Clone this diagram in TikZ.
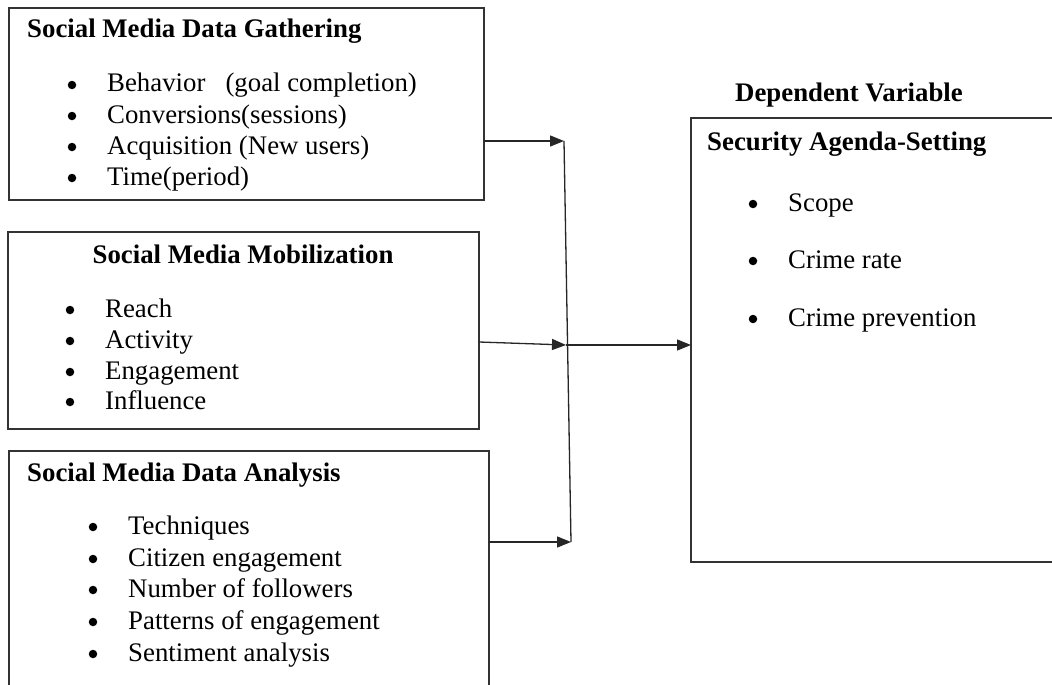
\documentclass[tikz,border=0pt]{standalone}
\usepackage{fontspec}
\setmainfont{Liberation Serif}
\usetikzlibrary{arrows.meta}
\begin{document}
\begin{tikzpicture}[x=1pt,y=-1pt,
  box/.style={draw=black!80, line width=1.4pt, rectangle, inner sep=0pt, outer sep=0pt},
  txt/.style={anchor=base west, inner sep=0pt, font=\fontsize{26.8}{31}\selectfont},
  ttl/.style={anchor=base west, inner sep=0pt, font=\fontsize{26.8}{31}\selectfont\bfseries},
  dot/.style={circle, fill=black, inner sep=0pt, minimum size=8.5pt, yshift=7pt},
  conn/.style={draw=black!85, line width=1.3pt},
  arr/.style={conn, -{Triangle[length=14pt,width=11pt]}}]
\clip (0,0) rectangle (1052,685);
\fill[white] (0,0) rectangle (1052,685);
% boxes
\node[box, minimum width=475pt, minimum height=192pt] (b1) at (246.5,104) {};
\node[box, minimum width=471pt, minimum height=197pt] (b2) at (243.5,330.5) {};
\node[box, minimum width=480pt, minimum height=269pt] (b3) at (249,585.5) {};
\node[box, minimum width=379pt, minimum height=444pt] (rb) at (880.5,340) {};
% box 1
\node[ttl] (t1) at (27,38) {Social Media Data Gathering};
\node[dot] (b1p1) at (72,92) {};
\node[dot] (b1p2) at (72,123) {};
\node[dot] (b1p3) at (72,154) {};
\node[dot] (b1p4) at (72,185) {};
\node[txt] (b1i1) at (107,92) {Behavior\ \ \ (goal completion)};
\node[txt] (b1i2) at (107,123) {Conversions(sessions)};
\node[txt] (b1i3) at (107,154) {Acquisition (New users)};
\node[txt] (b1i4) at (107,185) {Time(period)};
% box 2
\node[anchor=base, inner sep=0pt, font=\fontsize{26.8}{31}\selectfont\bfseries] (t2) at (243,263) {Social Media Mobilization};
\node[dot] (b2p1) at (70,317) {};
\node[dot] (b2p2) at (70,348) {};
\node[dot] (b2p3) at (70,379) {};
\node[dot] (b2p4) at (70,409) {};
\node[txt] (b2i1) at (105,317) {Reach};
\node[txt] (b2i2) at (105,348) {Activity};
\node[txt] (b2i3) at (105,379) {Engagement};
\node[txt] (b2i4) at (105,409) {Influence};
% box 3
\node[ttl] (t3) at (27,481) {Social Media Data Analysis};
\node[dot] (b3p1) at (93,534) {};
\node[dot] (b3p2) at (93,566) {};
\node[dot] (b3p3) at (93,597) {};
\node[dot] (b3p4) at (93,629) {};
\node[dot] (b3p5) at (93,661) {};
\node[txt] (b3i1) at (128,534) {Techniques};
\node[txt] (b3i2) at (128,566) {Citizen engagement};
\node[txt] (b3i3) at (128,597) {Number of followers};
\node[txt] (b3i4) at (128,629) {Patterns of engagement};
\node[txt] (b3i5) at (128,661) {Sentiment analysis};
% right box
\node[ttl] (dv) at (735,101) {Dependent Variable};
\node[ttl] (t4) at (707,150) {Security Agenda-Setting};
\node[dot] (rp1) at (753,211) {};
\node[dot] (rp2) at (753,268) {};
\node[dot] (rp3) at (753,326) {};
\node[txt] (ri1) at (788,211) {Scope};
\node[txt] (ri2) at (788,268) {Crime rate};
\node[txt] (ri3) at (788,326) {Crime prevention};
% connectors
\coordinate (j1) at (564,141);
\coordinate (j2) at (566,345);
\coordinate (j3) at (571,542);
\draw[conn] (j1) -- (j3);
\draw[arr] (b1.east |- j1) -- (j1);
\draw[arr] ([yshift=-11.5pt]b2.east) -- (j2);
\draw[arr] (j2) -- (j2 -| rb.west);
\draw[arr] (b3.east |- j3) -- (j3);
\end{tikzpicture}
\end{document}
